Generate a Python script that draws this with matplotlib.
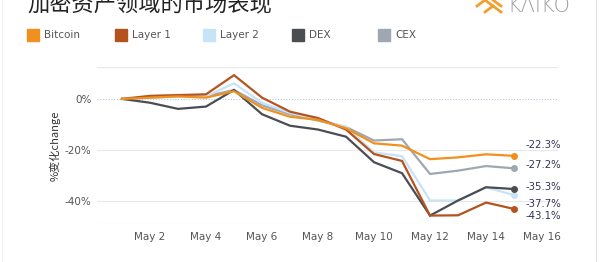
import matplotlib
matplotlib.use("Agg")
from matplotlib import pyplot as plt
from matplotlib.lines import Line2D
from matplotlib.patches import Rectangle

# days of May 2022, one point per day
days = list(range(1, 16))

bitcoin = [0, 0.5, 1.0, 0.5, 3.0, -3.5, -7.0, -8.2, -11.5, -17.4, -18.3, -23.6, -22.9, -21.7, -22.3]
layer1 = [0, 1.2, 1.5, 1.8, 9.3, 0.5, -5.0, -7.5, -12.0, -21.6, -24.3, -45.7, -45.6, -40.6, -43.1]
layer2 = [0, 0.5, 1.0, 1.0, 6.1, -1.5, -5.5, -8.0, -11.0, -21.0, -22.4, -39.8, -39.8, -34.6, -37.7]
dex = [0, -1.5, -3.9, -3.0, 3.5, -6.0, -10.5, -12.0, -14.8, -24.8, -29.1, -45.7, -39.8, -34.6, -35.3]
cex = [0, 0.5, 1.0, 1.0, 3.5, -2.5, -6.0, -8.5, -11.0, -16.3, -15.8, -29.4, -28.1, -26.3, -27.2]

names = ["Bitcoin", "Layer 1", "Layer 2", "DEX", "CEX"]
series = [bitcoin, layer1, layer2, dex, cex]
colors = ["#f0901e", "#b5531f", "#c8e3f6", "#4a4d52", "#9ea8b3"]
draw_order = [4, 2, 3, 1, 0]
# vertical nudge (px) of the end labels so they do not overlap
label_dy = [11, -7, -9, 2, 3]

xtick_days = [2, 4, 6, 8, 10, 12, 14, 16]
xtick_labels = [f"May {d}" for d in xtick_days]
ytick_vals = [0, -20, -40]
ytick_labels = ["0%", "-20%", "-40%"]

cjk = ["Noto Sans CJK SC", "DejaVu Sans"]

fig = plt.figure(figsize=(6.0, 2.62), dpi=100)
ax = fig.add_axes([97 / 600, 1 - 224 / 262, (558 - 97) / 600, (224 - 67) / 262])

for i in draw_order:
    ax.plot(days, series[i], color=colors[i], lw=1.6, solid_joinstyle="miter", zorder=3)
    ax.plot(days[-1], series[i][-1], "o", color=colors[i], ms=4, zorder=4)
    ax.annotate(f"{series[i][-1]:.1f}%", (days[-1], series[i][-1]),
                xytext=(8, label_dy[i] * 0.72), textcoords="offset points",
                ha="left", va="center", fontsize=7.3, color="#33335a")

y_top, y_bottom = 12.5, -49
ax.set_xlim(0.107, 16.57)
ax.set_ylim(y_bottom, y_top)

ax.set_xticks(xtick_days)
ax.set_xticklabels(xtick_labels)
ax.set_yticks(ytick_vals)
ax.set_yticklabels(ytick_labels)
ax.tick_params(length=0, labelsize=7.5, colors="#555555", pad=6)
ax.tick_params(axis="y", pad=4)

for s in ax.spines.values():
    s.set_visible(False)
for y in [-20, -40, y_top, y_bottom]:
    ax.axhline(y, color="#e8e8e8", lw=0.8, zorder=1)
ax.axhline(0, color="#b8c4d8", lw=0.8, ls=(0, (1, 1.5)), zorder=1)

ax.set_ylabel("%变化change", family=cjk, fontsize=8, color="#333333", labelpad=3)

# title, cut off at the top like the screenshot
fig.text(27 / 600, 1 - 10 / 262, "加密资产领域的市场表现", family=cjk, fontsize=16,
         color="#222222", ha="left", va="baseline")

# logo
fig.text(507 / 600, 1 - 12 / 262, "KΛIKO", fontsize=15, color="#a0a0a0",
         ha="left", va="baseline", family="DejaVu Sans", fontweight="light")
for xs, ys in [([477, 485, 493], [6, 0, 6]), ([485, 493, 501], [12, 6, 12]),
               ([493, 501], [0, 6])]:
    fig.add_artist(Line2D([x / 600 for x in xs], [1 - y / 262 for y in ys],
                          color="#f0a030", lw=2))

# legend
leg_sq = [27, 115, 203, 292, 378]
for i, x in enumerate(leg_sq):
    fig.add_artist(Rectangle((x / 600, 1 - 40.5 / 262), 12 / 600, 12 / 262,
                             color=colors[i], transform=fig.transFigure))
    fig.text((x + 17) / 600, 1 - 34.5 / 262, names[i], fontsize=7.5,
             color="#555555", ha="left", va="center")

# light frame of the screenshot
fig.add_artist(Line2D([596 / 600, 596 / 600], [0, 1], color="#e0e0e0", lw=0.8))
fig.add_artist(Line2D([2 / 600, 2 / 600], [0, 1], color="#f0f0f0", lw=0.8))

fig.savefig("out.png", dpi=100)
